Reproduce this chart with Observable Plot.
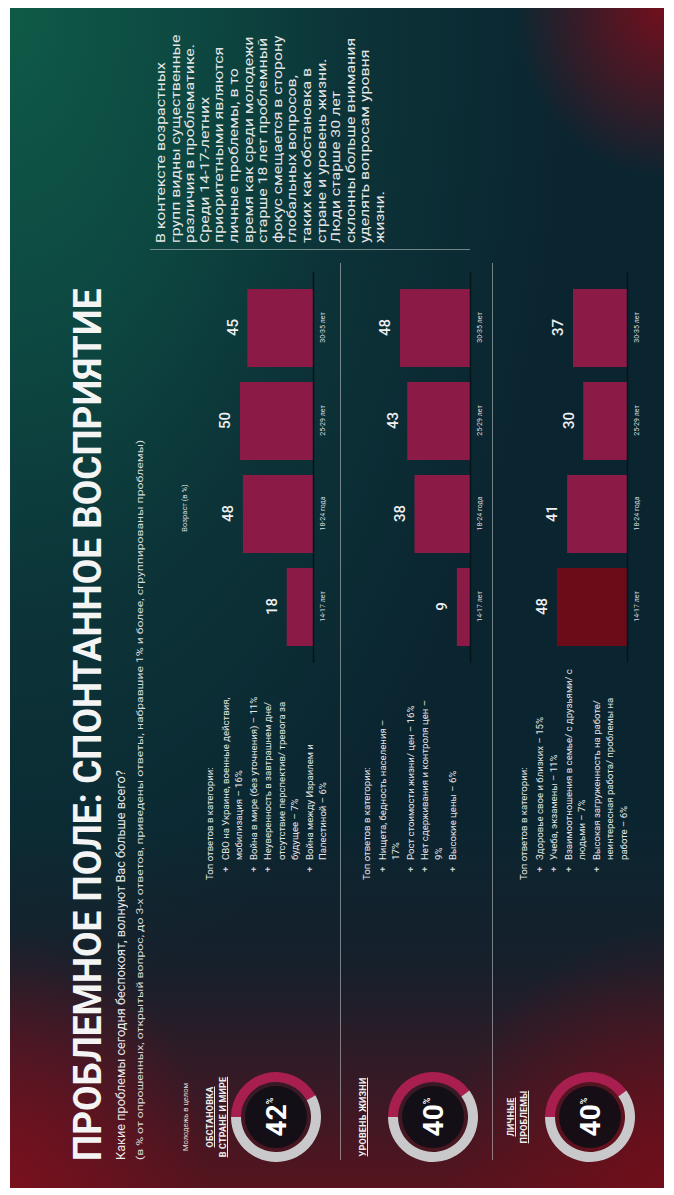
<!DOCTYPE html>
<html><head><meta charset="utf-8">
<script src="https://cdn.jsdelivr.net/npm/d3@7"></script>
<script src="https://cdn.jsdelivr.net/npm/@observablehq/plot@0.6"></script>
<style>
html,body{margin:0;padding:0;background:#fff;width:674px;height:1195px;overflow:hidden;}
#slide{position:absolute;left:0;top:0;width:1180px;height:654px;transform-origin:0 0;
 transform:translate(10px,1188px) rotate(-90deg);overflow:hidden;
 font-family:Roboto,"Noto Sans",sans-serif;color:#ececec;
 background:
  radial-gradient(ellipse 170px 150px at 100% 100%, rgba(120,14,28,0.95), rgba(120,14,28,0) 100%),
  radial-gradient(ellipse 260px 200px at 0% 0%, rgba(125,16,30,0.9), rgba(125,16,30,0) 100%),
  radial-gradient(ellipse 260px 220px at 0% 100%, rgba(115,14,26,0.9), rgba(115,14,26,0) 100%),
  linear-gradient(to right, rgba(85,20,30,1) 0px, rgba(70,22,34,0.8) 90px, rgba(40,24,36,0.4) 220px, rgba(20,30,40,0) 360px),
  radial-gradient(ellipse 1000px 560px at 100% 0%, #0f5a47 0%, #0d4a42 30%, #0c3338 62%, rgba(11,36,48,0) 100%),
  #0b2530;}
.abs{position:absolute;white-space:nowrap;}
.fit{transform-origin:0 50%;}
.lbl{font-weight:700;text-decoration:underline;text-align:center;font-size:9px;line-height:13px;letter-spacing:0.2px;}
.list{font-size:9.6px;line-height:13.5px;color:#e6e6e6;}
.list .it{position:relative;padding-left:20px;margin-bottom:1px;}
.list .it:before{content:"+";position:absolute;left:8px;top:0;}
.sep{position:absolute;background:rgba(200,205,205,0.55);}
</style></head>
<body>
<div id="slide"></div>
<script>
// ---------- data ----------
const ages = ["14-17 лет", "18-24 года", "25-29 лет", "30-35 лет"];
const situationByAge = [18, 48, 50, 45];
const livingByAge = [9, 38, 43, 48];
const personalByAge = [48, 41, 30, 37];
const totals = [42, 40, 40];
const categoryLabels = [["ОБСТАНОВКА", "В СТРАНЕ И МИРЕ"], ["УРОВЕНЬ ЖИЗНИ"], ["ЛИЧНЫЕ", "ПРОБЛЕМЫ"]];
const situationTop = [
  ["СВО на Украине, военные действия,", "мобилизация – 16%"],
  ["Война в мире (без уточнения) – 11%"],
  ["Неуверенность в завтрашнем дне/", "отсутствие перспектив/ тревога за", "будущее – 7%"],
  ["Война между Израилем и", "Палестиной – 6%"]
];
const livingTop = [
  ["Нищета, бедность населения –", "17%"],
  ["Рост стоимости жизни/ цен – 16%"],
  ["Нет сдерживания и контроля цен –", "9%"],
  ["Высокие цены – 6%"]
];
const personalTop = [
  ["Здоровье свое и близких – 15%"],
  ["Учеба, экзамены – 11%"],
  ["Взаимоотношения в семье/ с друзьями/ с", "людьми – 7%"],
  ["Высокая загруженность на работе/", "неинтересная работа/ проблемы на", "работе – 6%"]
];
const title = "ПРОБЛЕМНОЕ ПОЛЕ: СПОНТАННОЕ ВОСПРИЯТИЕ";
const subtitle = "Какие проблемы сегодня беспокоят, волнуют Вас больше всего?";
const note = "(в % от опрошенных, открытый вопрос, до 3-х ответов, приведены ответы, набравшие 1% и более, сгруппированы проблемы)";
const commentLines = [
  "В контексте возрастных", "групп видны существенные", "различия в проблематике.",
  "Среди 14-17-летних", "приоритетными являются", "личные проблемы, в то",
  "время как среди молодежи", "старше 18 лет проблемный", "фокус смещается в сторону",
  "глобальных вопросов,", "таких как обстановка в", "стране и уровень жизни.",
  "Люди старше 30 лет", "склонны больше внимания", "уделять вопросам уровня", "жизни."
];
const youthLabel = "Молодежь в целом";
const ageAxisLabel = "Возраст (в %)";
const listHeading = "Топ ответов в категории:";

// ---------- build ----------
const slide = document.getElementById("slide");
function add(html, style, cls) {
  const d = document.createElement("div");
  d.className = "abs " + (cls || "");
  Object.assign(d.style, style);
  d.innerHTML = html;
  slide.appendChild(d);
  return d;
}
function fit(el, w) {
  const real = el.scrollWidth;
  el.style.transform = `scaleX(${w / real})`;
}

const t = add(title, {left: "27px", top: "58px", fontSize: "38px", fontWeight: "700", lineHeight: "40px", color: "#f4f4f4"}, "fit");
const st = add(subtitle, {left: "28px", top: "104px", fontSize: "13px", lineHeight: "14px", color: "#e8e8e8"}, "fit");
const nt = add(note, {left: "28px", top: "125px", fontSize: "9.5px", lineHeight: "10px", color: "#dcdcdc"}, "fit");

// comment block
const cm = add(commentLines.join("<br>"), {left: "945px", top: "143px", fontSize: "13.5px", lineHeight: "14.6px", color: "#e4e6e6", transformOrigin: "0 0"});

// separators
add("", {left: "28px", top: "330px", width: "897px", height: "1px"}, "sep");
add("", {left: "28px", top: "482px", width: "897px", height: "1px"}, "sep");
add("", {left: "938px", top: "140px", width: "1px", height: "320px"}, "sep");

const rowOffsets = [0, 157, 314];
const rowLists = [situationTop, livingTop, personalTop];
const rowValues = [situationByAge, livingByAge, personalByAge];

add(youthLabel, {left: "21px", width: "100px", top: "171px", fontSize: "7.5px", textAlign: "center", color: "#d8d8d8"});
add(ageAxisLabel, {left: "640px", width: "80px", top: "170px", fontSize: "7.5px", textAlign: "center", color: "#d8d8d8"});

const labelTops = [194, 347, 495];

function donut(pct) {
  const svg = d3.create("svg").attr("width", 100).attr("height", 100);
  const g = svg.append("g").attr("transform", "translate(50,50)");
  const arc = d3.arc().innerRadius(35).outerRadius(45);
  const pie = d3.pie().sort(null).value(d => d)([pct, 100 - pct]);
  g.selectAll("path").data(pie).join("path").attr("d", arc)
    .attr("fill", (d, i) => i === 0 ? "#a81f4f" : "#c9c9cb");
  g.append("circle").attr("r", 31).attr("fill", "rgba(14,14,20,0.88)");
  const tx = g.append("text").attr("text-anchor", "middle").attr("y", 10)
    .attr("fill", "#fff").attr("font-family", "Roboto, sans-serif").attr("font-weight", 700);
  tx.append("tspan").attr("font-size", 28).text(pct);
  tx.append("tspan").attr("font-size", 9).attr("dy", -13).text("%");
  return svg.node();
}

function barChart(values, highlightFirst) {
  const data = ages.map((a, i) => ({age: a, value: values[i], fill: highlightFirst && i === 0 ? "#6d0c19" : "#8c1a47"}));
  return Plot.plot({
    width: 391, height: 119, marginTop: 28, marginBottom: 18, marginLeft: 0, marginRight: 0,
    style: {background: "transparent", color: "#dcdcdc", fontSize: "7px", fontFamily: "Roboto, sans-serif"},
    x: {domain: ages, padding: 0.16, tickSize: 0, tickPadding: 7, label: null},
    y: {domain: [0, 50], axis: null},
    color: {type: "identity"},
    marks: [
      Plot.barY(data, {x: "age", y: "value", fill: "fill"}),
      Plot.ruleY([0], {stroke: "#061519", strokeWidth: 1.5}),
      Plot.text(data, {x: "age", y: "value", text: d => String(d.value), dy: -15, fill: "#f0f0f0", fontSize: 15, fontWeight: 500})
    ]
  });
}

rowOffsets.forEach((off, r) => {
  const dn = donut(totals[r]);
  const dw = add("", {left: "21px", top: (216 + off) + "px"});
  dw.appendChild(dn);
  add(categoryLabels[r].join("<br>"), {left: "11px", width: "120px", top: labelTops[r] + "px"}, "lbl");
  const items = rowLists[r].map(lines => `<div class="it">${lines.join("<br>")}</div>`).join("");
  add(`<div style="margin-bottom:2px">${listHeading}</div>${items}`, {left: "308px", top: (193 + off) + "px"}, "list");
  const bw = add("", {left: "525px", top: (202 + off) + "px"});
  bw.appendChild(barChart(rowValues[r], r === 2));
});

fit(t, 872);
fit(st, 390);
fit(nt, 720);
fit(cm, 208);
</script>
</body></html>
